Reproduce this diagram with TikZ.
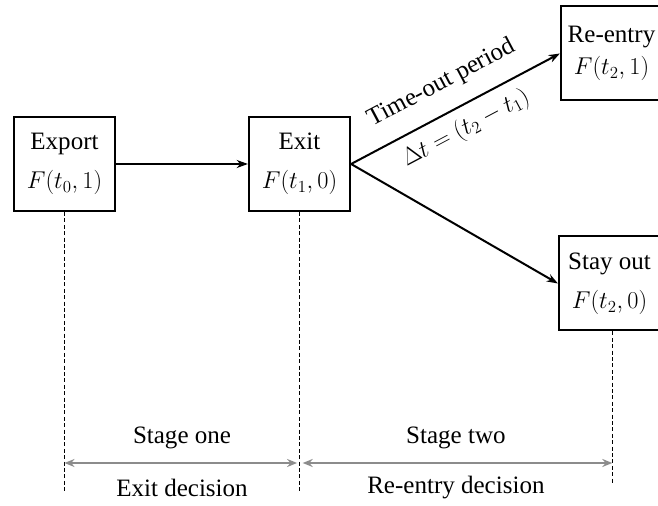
\documentclass[tikz,border=0pt]{standalone}
\usepackage{amsmath}
\usepackage{fontspec}
\setmainfont{Liberation Serif}
\usepackage{tikz}
\usetikzlibrary{arrows.meta,positioning}

\definecolor{stagegray}{RGB}{140,140,140}

\begin{document}
\begin{tikzpicture}[
  box/.style={draw, line width=0.05cm, minimum width=2.53cm, minimum height=2.35cm,
    align=center, inner sep=0pt, font=\rmfamily\fontsize{17.8}{28}\selectfont},
  conn/.style={line width=0.05cm, -{Stealth[length=0.28cm,width=0.2cm]}},
  guide/.style={line width=0.025cm, dash pattern=on 0.1cm off 0.06cm},
  stage/.style={stagegray, line width=0.04cm,
    {Stealth[length=0.25cm,width=0.2cm]}-{Stealth[length=0.25cm,width=0.2cm]}},
  lbl/.style={text=black, font=\rmfamily\fontsize{17.8}{21}\selectfont}
]
\useasboundingbox (0,0) rectangle (16.45,12.65);
% the four states
\node[box] (export) at (1.6125,8.55) {Export\\$F(t_0,1)$};
\node[box, font=\rmfamily\fontsize{17.8}{23}\selectfont] (reentry) at (15.2875,11.3125) {Re-entry\\$F(t_2,1)$};
\node[box] (exit) at (7.4875,8.55) {Exit\\$F(t_1,0)$};
\node[box] (stayout) at (15.2375,5.5625) {Stay out\\$F(t_2,0)$};
% transitions
\draw[conn] (export) -- (exit);
\draw[conn] (exit.east) -- (reentry.west)
  node[lbl, midway, above=0.3cm, sloped] {Time-out period}
  node[lbl, midway, below=0.12cm, sloped] {$\Delta t=(t_2-t_1)$};
\draw[conn] (exit.east) -- (stayout.west);
% time lines
\coordinate (exportfoot) at (export.south |- 0,0.325);
\coordinate (exitfoot) at (exit.south |- 0,0.35);
\coordinate (stayfoot) at ([xshift=0.07cm]stayout.south |- 0,0.575);
\draw[guide] (export.south) -- (exportfoot);
\draw[guide] (exit.south) -- (exitfoot);
\draw[guide] ([xshift=0.07cm]stayout.south) -- (stayfoot);
% stages
\coordinate (s0) at (export.south |- 0,1.075);
\coordinate (s1) at (exit.south |- 0,1.075);
\coordinate (s2) at ([xshift=0.07cm]stayout.south |- 0,1.075);
\draw[stage, shorten >=0.06cm] (s0) -- (s1)
  node[lbl, midway, yshift=0.62cm] {Stage one}
  node[lbl, midway, yshift=-0.62cm] {Exit decision};
\draw[stage, shorten <=0.08cm] (s1) -- (s2)
  node[lbl, midway, yshift=0.62cm] {Stage two}
  node[lbl, midway, yshift=-0.62cm] {Re-entry decision};
\end{tikzpicture}
\end{document}
